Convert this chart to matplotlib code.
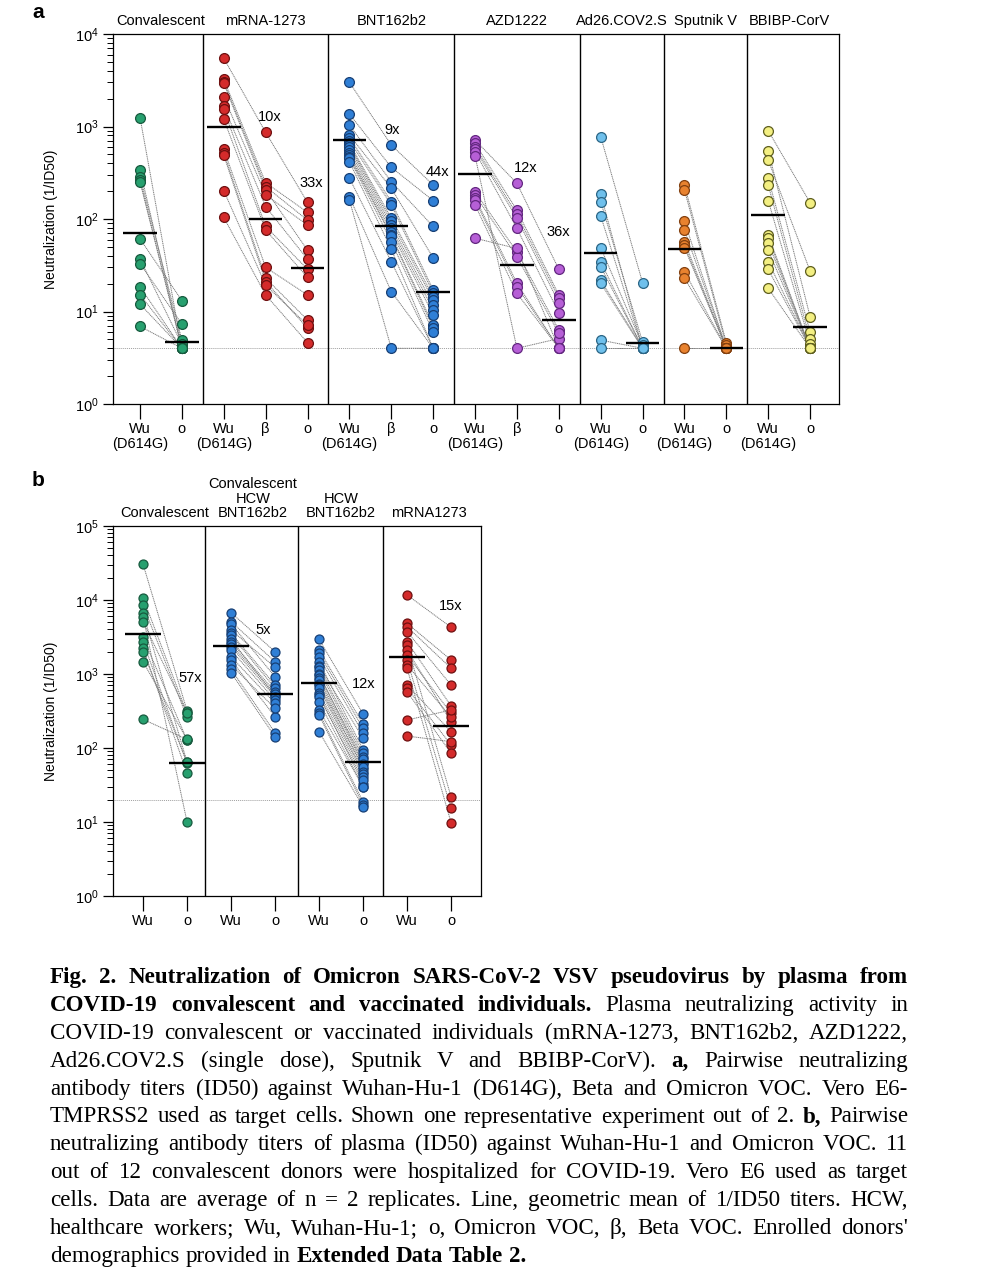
import numpy as np
import matplotlib
matplotlib.use('Agg')
import matplotlib.pyplot as plt
from matplotlib.ticker import LogLocator, NullFormatter

plt.rcParams['font.family'] = ['Liberation Sans', 'DejaVu Sans']
plt.rcParams['mathtext.fontset'] = 'custom'
plt.rcParams['mathtext.rm'] = 'Liberation Sans'
plt.rcParams['mathtext.it'] = 'Liberation Sans:italic'
plt.rcParams['mathtext.bf'] = 'Liberation Sans:bold'

# ---------------- Panel a data ----------------
conv_wu = [1250, 340, 288, 263, 252, 61, 37, 33, 18.5, 15.2, 12, 6.9]
conv_o = [4.0, 4.0, 4.9, 4.0, 4.0, 13.1, 4.4, 7.3, 4.0, 4.0, 4.0, 4.0]
conv_gm = [70, 4.7]

mrna_wu = [5460, 3240, 3050, 2930, 2100, 1660, 1535, 1200, 567, 521, 490, 202, 104]
mrna_beta = [865, 247, 224, 206, 182, 136, 83, 76, 30, 22.9, 21, 19.3, 15.1]
mrna_o = [151, 118, 97, 46, 86, 36.7, 28.6, 23.4, 15.1, 8.1, 6.6, 7.1, 4.6]
mrna_gm = [990, 100, 29.5]

bnt_wu = [3000, 1365, 1038, 809, 760, 700, 658, 631, 600, 560, 520, 492, 470, 453, 417, 276, 174, 160]
bnt_beta = [631, 362, 253, 215, 154, 142, 102, 94, 86, 79, 73, 67, 65, 57, 47, 34.6, 16.4, 4.0]
bnt_o = [233, 158, 83, 38, 17.1, 15.7, 14.5, 13.3, 11.7, 10.4, 9.2, 7.1, 6.6, 6.0, 4.0, 4.0, 4.0, 4.0]
bnt_gm = [714, 84, 16.3]

azd_wu = [714, 658, 605, 570, 534, 480, 197, 182, 170, 160, 142, 62]
azd_beta = [243, 124, 112, 102, 79, 4.0, 44, 39, 20.2, 18.5, 15.7, 48]
azd_o = [28.6, 15.1, 13.9, 12.4, 9.7, 5.1, 6.3, 5.8, 4.0, 4.0, 4.0, 4.0]
azd_gm = [306, 31.8, 8.1]

ad26_wu = [776, 186, 154, 108, 49, 34.6, 30.5, 21.9, 20.2, 4.9, 4.0]
ad26_o = [20.5, 4.0, 4.7, 4.0, 4.3, 4.0, 4.0, 4.0, 4.0, 4.0, 4.0]
ad26_gm = [43, 4.6]

sput_wu = [233, 206, 94, 76, 57, 52, 49, 26.9, 22.9, 4.0]
sput_o = [4.6, 4.3, 4.0, 4.0, 4.0, 4.0, 4.0, 4.0, 4.0, 4.0]
sput_gm = [47, 4.0]

bbibp_wu = [901, 548, 434, 276, 233, 158, 67, 62, 55, 46, 34.6, 28.6, 17.8]
bbibp_o = [150, 8.8, 27.4, 6.0, 5.0, 4.5, 4.0, 4.0, 4.0, 4.0, 4.0, 4.0, 4.0]
bbibp_gm = [110, 6.8]

a_titles = ["Convalescent", "mRNA-1273", "BNT162b2", "AZD1222", "Ad26.COV2.S", "Sputnik V", "BBIBP-CorV"]
a_ticklabels = ["Wu\n(D614G)", "o", "Wu\n(D614G)", "β", "o", "Wu\n(D614G)", "β", "o",
                "Wu\n(D614G)", "β", "o", "Wu\n(D614G)", "o", "Wu\n(D614G)", "o", "Wu\n(D614G)", "o"]
a_folds = ["10x", "33x", "9x", "44x", "12x", "36x"]
a_lod = 4

# ---------------- Panel b data ----------------
b_conv_wu = [30600, 10700, 8560, 6610, 5950, 5100, 3130, 2730, 2220, 2000, 1466, 244]
b_conv_o = [320, 294, 260, 65, 10.1, 300, 128, 62, 46, 64, 130, 131]
b_conv_gm = [3470, 62]

b_chcw_wu = [6740, 5100, 4740, 3940, 3550, 3370, 2940, 2730, 2520, 2340, 2100, 1710, 1545, 1323, 1158, 1042]
b_chcw_o = [2000, 1466, 920, 1230, 710, 640, 500, 577, 537, 494, 445, 402, 265, 344, 161, 142]
b_chcw_gm = [2410, 537]

b_hcw_wu = [2940, 2110, 1900, 1680, 1466, 1282, 1250, 1132, 1000, 969, 890, 830, 733, 700, 640,
            560, 520, 494, 423, 326, 300, 279, 166]
b_hcw_o = [288, 211, 185, 158, 95, 135, 85, 76, 63, 70, 60, 52, 56, 48, 45, 41, 33, 37, 30, 30,
           18.8, 17, 16.1]
b_hcw_gm = [763, 65]

b_mrna_wu = [11700, 4840, 4350, 3730, 2730, 2470, 2110, 1806, 1545, 1323, 1195, 710, 640, 577, 239, 145]
b_mrna_o = [4280, 1545, 1195, 710, 370, 21.9, 227, 294, 15.3, 260, 9.8, 166, 110, 85, 326, 122]
b_mrna_gm = [1680, 200]

b_titles = ["Convalescent", "Convalescent\nHCW\nBNT162b2", "HCW\nBNT162b2", "mRNA1273"]
b_ticklabels = ["Wu", "o", "Wu", "o", "Wu", "o", "Wu", "o"]
b_folds = ["57x", "5x", "12x", "15x"]
b_lod = 20

# ---------------- colours ----------------
GREEN = ('#27a06f', '#175a3e')
RED = ('#d42b2b', '#6e1010')
BLUE = ('#2f7fd6', '#173f74')
PURPLE = ('#b65fd6', '#632780')
LBLUE = ('#6fc0ec', '#2a6585')
ORANGE = ('#e8822f', '#83400f')
YELLOW = ('#f3ef82', '#5e5e1e')

groups_a = [
    ([conv_wu, conv_o], conv_gm, GREEN),
    ([mrna_wu, mrna_beta, mrna_o], mrna_gm, RED),
    ([bnt_wu, bnt_beta, bnt_o], bnt_gm, BLUE),
    ([azd_wu, azd_beta, azd_o], azd_gm, PURPLE),
    ([ad26_wu, ad26_o], ad26_gm, LBLUE),
    ([sput_wu, sput_o], sput_gm, ORANGE),
    ([bbibp_wu, bbibp_o], bbibp_gm, YELLOW),
]
groups_b = [
    ([b_conv_wu, b_conv_o], b_conv_gm, GREEN),
    ([b_chcw_wu, b_chcw_o], b_chcw_gm, BLUE),
    ([b_hcw_wu, b_hcw_o], b_hcw_gm, BLUE),
    ([b_mrna_wu, b_mrna_o], b_mrna_gm, RED),
]

W, H = 983, 1280
fig = plt.figure(figsize=(W / 100, H / 100), dpi=100)
FS = 10.5


def draw_panel(ax, groups, titles, ticklabels, folds, fold_pos, lod, dividers,
               ylim, xlim, msize, title_ls):
    pos = 0
    centers = []
    for series, gm, (fc, ec) in groups:
        xs = list(range(pos, pos + len(series)))
        centers.append((xs[0] + xs[-1]) / 2)
        n = len(series[0])
        for i in range(n):
            ax.plot(xs, [s[i] for s in series], color='#7a7a7a', lw=0.7,
                    ls=(0, (1.2, 0.7)), zorder=2)
        for x, s in zip(xs, series):
            ax.scatter([x] * len(s), s, s=msize, facecolor=fc, edgecolor=ec,
                       linewidths=0.9, zorder=3)
        for x, m in zip(xs, gm):
            ax.plot([x - 0.4, x + 0.4], [m, m], color='k', lw=1.7, zorder=4,
                    solid_capstyle='butt')
        pos += len(series)
    ax.axhline(lod, color='#a0a0a0', lw=0.7, ls=(0, (1, 1)), zorder=1)
    for d in dividers:
        ax.axvline(d, color='k', lw=1.0, zorder=5)
    ax.set_yscale('log')
    ax.set_ylim(*ylim)
    ax.set_xlim(*xlim)
    ax.yaxis.set_major_locator(LogLocator(base=10, numticks=12))
    ax.yaxis.set_minor_locator(LogLocator(base=10, subs=np.arange(2, 10), numticks=12))
    ax.yaxis.set_minor_formatter(NullFormatter())
    ax.set_xticks(range(pos))
    ax.set_xticklabels(ticklabels, fontsize=FS, linespacing=1.05)
    ax.tick_params(axis='x', direction='out', length=11, width=0.9, pad=2)
    ax.tick_params(axis='y', which='major', direction='out', length=7.5, width=0.9,
                   labelsize=FS, pad=3)
    ax.tick_params(axis='y', which='minor', direction='out', length=4.5, width=0.7)
    for sp in ax.spines.values():
        sp.set_linewidth(0.9)
    for c, t in zip(centers, titles):
        ax.annotate(t, xy=(c, 1.0), xycoords=('data', 'axes fraction'),
                    xytext=(0, 4), textcoords='offset points', ha='center',
                    va='bottom', fontsize=FS, linespacing=title_ls)
    for t, (x, y) in zip(folds, fold_pos):
        ax.text(x, y, t, ha='center', va='center', fontsize=FS, zorder=6)
    ax.set_ylabel('Neutralization (1/ID50)', fontsize=10)


# panel a
ax_a = fig.add_axes([113 / W, 1 - 404 / H, (839 - 113) / W, (404 - 34) / H])
a_fold_pos = [(3.09, 1277), (4.1, 247), (6.03, 916), (7.11, 325), (9.22, 353), (9.99, 73)]
draw_panel(ax_a, groups_a, a_titles, a_ticklabels, a_folds, a_fold_pos, a_lod,
           [1.5, 4.5, 7.5, 10.5, 12.5, 14.5], (1, 1e4), (-0.645, 16.69), 50, 1.1)
ax_a.yaxis.set_label_coords(-0.076, 0.5)

# panel b
ax_b = fig.add_axes([113 / W, 1 - 896 / H, (481 - 113) / W, (896 - 526) / H])
b_fold_pos = [(1.07, 875), (2.72, 3935), (5.01, 733), (6.99, 8300)]
draw_panel(ax_b, groups_b, b_titles, b_ticklabels, b_folds, b_fold_pos, b_lod,
           [1.41, 3.52, 5.45], (1, 1e5), (-0.682, 7.68), 42, 1.05)
ax_b.yaxis.set_label_coords(-0.15, 0.5)

fig.text(38 / W, 1 - 12 / H, 'a', fontsize=15, weight='bold', ha='center', va='center')
fig.text(38 / W, 1 - 480 / H, 'b', fontsize=15, weight='bold', ha='center', va='center')

# ---------------- caption (justified) ----------------
cap_lines = [
    "**Fig. 2. Neutralization of Omicron SARS-CoV-2 VSV pseudovirus by plasma from**",
    "**COVID-19 convalescent and vaccinated individuals.** Plasma neutralizing activity in",
    "COVID-19 convalescent or vaccinated individuals (mRNA-1273, BNT162b2, AZD1222,",
    "Ad26.COV2.S (single dose), Sputnik V and BBIBP-CorV). **a,** Pairwise neutralizing",
    "antibody titers (ID50) against Wuhan-Hu-1 (D614G), Beta and Omicron VOC. Vero E6-",
    "TMPRSS2 used as target cells. Shown one representative experiment out of 2. **b,** Pairwise",
    "neutralizing antibody titers of plasma (ID50) against Wuhan-Hu-1 and Omicron VOC. 11",
    "out of 12 convalescent donors were hospitalized for COVID-19. Vero E6 used as target",
    "cells. Data are average of n = 2 replicates. Line, geometric mean of 1/ID50 titers. HCW,",
    "healthcare workers; Wu, Wuhan-Hu-1; o, Omicron VOC, β, Beta VOC. Enrolled donors'",
    "demographics provided in **Extended Data Table 2.**",
]


def parse(line):
    toks = []
    bold = False
    for w in line.split(' '):
        b = bold
        if w.startswith('**'):
            w = w[2:]
            b = True
            bold = True
        if w.endswith('**'):
            w = w[:-2]
            bold = False
        toks.append((w, b))
    return toks


renderer = fig.canvas.get_renderer()
X0, X1, Y0, DY, CFS = 50, 908, 983, 27.9, 16.6
for li, line in enumerate(cap_lines):
    toks = parse(line)
    y = Y0 + li * DY
    texts = [fig.text(0, 1 - y / H, w, fontsize=CFS, family=['Liberation Serif', 'DejaVu Serif'],
                      weight='bold' if b else 'normal', va='baseline', ha='left')
             for w, b in toks]
    widths = [t.get_window_extent(renderer).width for t in texts]
    if li == len(cap_lines) - 1:
        gap = CFS * 100 / 72 * 0.25
    else:
        gap = (X1 - X0 - sum(widths)) / (len(texts) - 1)
    x = X0
    for t, w in zip(texts, widths):
        t.set_position((x / W, 1 - y / H))
        x += w + gap

fig.savefig('out.png', dpi=100)
